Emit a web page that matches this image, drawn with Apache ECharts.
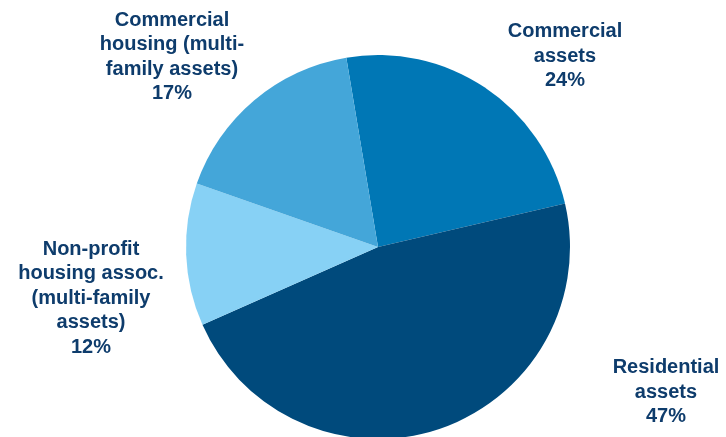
<!DOCTYPE html>
<html>
<head>
<meta charset="utf-8">
<script src="https://cdn.jsdelivr.net/npm/echarts@6/dist/echarts.min.js"></script>
<style>
html,body{margin:0;padding:0;background:#fff;}
#chart{width:726px;height:437px;}
</style>
</head>
<body>
<div id="chart"></div>
<script>
const categories = [
  "Commercial\nassets",
  "Residential\nassets",
  "Non-profit\nhousing assoc.\n(multi-family\nassets)",
  "Commercial\nhousing (multi-\nfamily assets)"
];
const values = [24, 47, 12, 17];

const sliceColors = ["#0077B5", "#004A7C", "#87D1F5", "#44A6D9"];
const labelAnchors = [[565, 56], [666, 392], [91, 298], [172, 57]];

const chart = echarts.init(document.getElementById('chart'), null, {renderer: 'canvas'});
chart.setOption({
  animation: false,
  backgroundColor: '#ffffff',
  series: [{
    type: 'pie',
    center: [378, 247],
    radius: 192,
    startAngle: 99.5,
    clockwise: true,
    avoidLabelOverlap: false,
    data: categories.map((c, i) => ({
      name: c,
      value: values[i],
      itemStyle: {color: sliceColors[i]}
    })),
    itemStyle: {borderWidth: 0},
    emphasis: {disabled: true},
    label: {
      show: true,
      position: 'outside',
      formatter: p => p.name + '\n' + p.value + '%',
      color: '#0E3C6C',
      fontFamily: 'Liberation Sans, Arial, sans-serif',
      fontWeight: 'bold',
      fontSize: 20,
      lineHeight: 24.5,
      align: 'center'
    },
    labelLine: {show: false},
    labelLayout: function (params) {
      const a = labelAnchors[params.dataIndex];
      return {x: a[0], y: a[1], align: 'center', verticalAlign: 'middle'};
    }
  }]
});
</script>
</body>
</html>
